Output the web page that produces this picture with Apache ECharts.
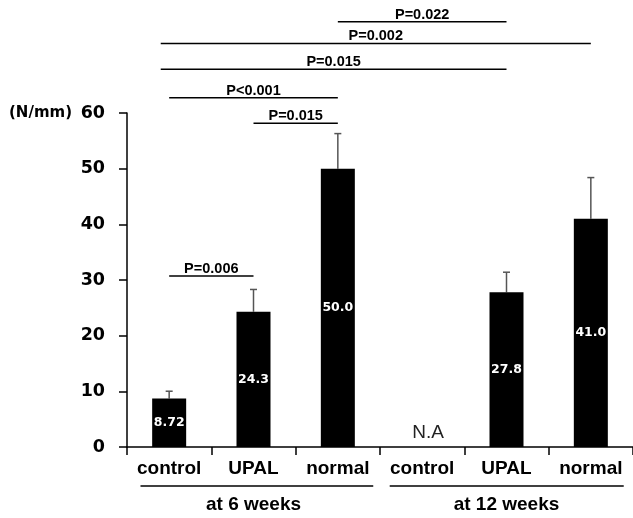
<!DOCTYPE html>
<html>
<head>
<meta charset="utf-8">
<style>html,body{margin:0;padding:0;background:#fff;}#c{width:633px;height:518px;}</style>
<script src="https://cdn.jsdelivr.net/npm/echarts@6/dist/echarts.min.js"></script>
</head>
<body>
<div id="c"></div>
<script>
const categories = ['control', 'UPAL', 'normal', 'control', 'UPAL', 'normal'];
const means = [8.72, 24.3, 50.0, null, 27.8, 41.0];
const sdUp = [1.3, 4.0, 6.3, null, 3.6, 7.4];
const valueLabels = ['8.72', '24.3', '50.0', '', '27.8', '41.0'];
const yTicks = [0, 10, 20, 30, 40, 50, 60];
const naLabel = 'N.A';
const naIndex = 3;

const bracketLabels = ['P=0.022', 'P=0.002', 'P=0.015', 'P<0.001', 'P=0.015', 'P=0.006'];
const bracketFrom = [2, -0.1, -0.1, 0, 1, 0];
const bracketTo = [4, 5, 4, 2, 2, 1];
const bracketLevel = [76.4, 72.5, 67.85, 62.75, 58.15, 30.7];

const groupLabels = ['at 6 weeks', 'at 12 weeks'];
const groupFrom = [-0.34, 2.615];
const groupTo = [2.42, 5.39];
const groupCenter = [1, 4];
const groupLevel = -7.0;

const chart = echarts.init(document.getElementById('c'), null, {renderer: 'canvas'});

const errData = means.map((m, i) => m == null ? null : [i, m, m + sdUp[i]]).filter(d => d);
const bracketData = bracketLabels.map((l, i) => [bracketFrom[i], bracketTo[i], bracketLevel[i], i]);
const groupData = groupLabels.map((l, i) => [groupFrom[i], groupTo[i], groupLevel, groupCenter[i], i]);

const option = {
  animation: false,
  backgroundColor: '#fff',
  grid: {left: 127, right: -5, top: 113, bottom: 71},
  xAxis: [{
    type: 'category',
    data: categories,
    axisLine: {onZero: false, lineStyle: {color: '#000', width: 1.5}},
    axisTick: {show: true, length: 8, inside: false, lineStyle: {color: '#000', width: 1.5}},
    axisLabel: {color: '#000', fontFamily: 'Liberation Sans', fontWeight: 'bold', fontSize: 19, margin: 12, interval: 0},
    splitLine: {show: false}
  }, {
    type: 'value', min: -0.5, max: 5.5, show: false
  }],
  yAxis: [{
    type: 'value', min: 0, max: 60, interval: 10,
    axisLine: {show: true, onZero: false, lineStyle: {color: '#000', width: 1.5}},
    axisTick: {show: true, length: 8, inside: false, lineStyle: {color: '#000', width: 1.5}},
    axisLabel: {color: '#000', fontFamily: 'DejaVu Sans', fontWeight: 'bold', fontSize: 17.5, margin: 22,
      formatter: v => yTicks.indexOf(v) >= 0 ? String(v) : ''},
    splitLine: {show: false}
  }],
  graphic: [{
    type: 'text', left: 9, top: 106,
    style: {text: '(N/mm)', fill: '#000', font: 'bold 15px "DejaVu Sans"'}
  }],
  series: [{
    type: 'bar',
    data: means,
    barWidth: 34,
    itemStyle: {color: '#000'},
    label: {show: true, position: 'inside', color: '#fff', fontFamily: 'DejaVu Sans', fontWeight: 'bold', fontSize: 12.5,
      formatter: p => valueLabels[p.dataIndex]},
    z: 2
  }, {
    type: 'custom',
    xAxisIndex: 0,
    data: errData,
    z: 1,
    renderItem: function (params, api) {
      const x = api.value(0), m = api.value(1), t = api.value(2);
      const p0 = api.coord([x, m]);
      const p1 = api.coord([x, t]);
      const st = {stroke: '#555', lineWidth: 1.5};
      return {type: 'group', children: [
        {type: 'line', shape: {x1: p0[0], y1: p0[1], x2: p1[0], y2: p1[1]}, style: st},
        {type: 'line', shape: {x1: p1[0] - 3.5, y1: p1[1], x2: p1[0] + 3.5, y2: p1[1]}, style: st}
      ]};
    }
  }, {
    type: 'custom',
    xAxisIndex: 0,
    data: [[naIndex, 2.5]],
    renderItem: function (params, api) {
      const p = api.coord([api.value(0), api.value(1)]);
      return {type: 'text', x: p[0] + 6, y: p[1],
        style: {text: naLabel, fill: '#222', font: '19px "Liberation Sans"', align: 'center', verticalAlign: 'middle'}};
    }
  }, {
    type: 'custom',
    xAxisIndex: 1,
    data: bracketData,
    clip: false,
    renderItem: function (params, api) {
      const a = api.coord([api.value(0), api.value(2)]);
      const b = api.coord([api.value(1), api.value(2)]);
      const idx = api.value(3);
      return {type: 'group', children: [
        {type: 'line', shape: {x1: a[0], y1: a[1], x2: b[0], y2: b[1]}, style: {stroke: '#000', lineWidth: 1.5}},
        {type: 'text', x: (a[0] + b[0]) / 2, y: a[1] - 7,
          style: {text: bracketLabels[idx], fill: '#000', font: 'bold 14.5px "Liberation Sans"', align: 'center', verticalAlign: 'middle'}}
      ]};
    }
  }, {
    type: 'custom',
    xAxisIndex: 1,
    data: groupData,
    clip: false,
    renderItem: function (params, api) {
      const a = api.coord([api.value(0), api.value(2)]);
      const b = api.coord([api.value(1), api.value(2)]);
      const c = api.coord([api.value(3), api.value(2)]);
      const idx = api.value(4);
      return {type: 'group', children: [
        {type: 'line', shape: {x1: a[0], y1: a[1], x2: b[0], y2: b[1]}, style: {stroke: '#000', lineWidth: 1.5}},
        {type: 'text', x: c[0], y: a[1] + 19,
          style: {text: groupLabels[idx], fill: '#000', font: 'bold 19px "Liberation Sans"', align: 'center', verticalAlign: 'middle'}}
      ]};
    }
  }]
};
chart.setOption(option);
</script>
</body>
</html>
